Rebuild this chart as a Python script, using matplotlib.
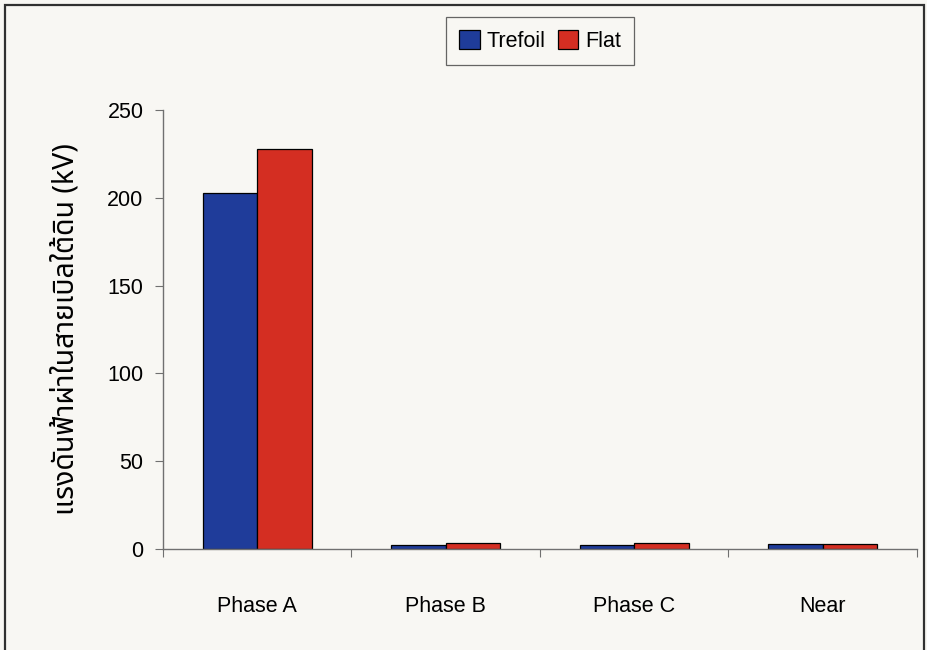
import matplotlib
matplotlib.use("Agg")
import matplotlib.pyplot as plt
from matplotlib import font_manager
from matplotlib.ft2font import FT2Font
from matplotlib.patches import Rectangle
import numpy as np

categories = ["Phase A", "Phase B", "Phase C", "Near"]
trefoil = [203, 2.5, 2.5, 2.6]
flat = [228, 3.2, 3.3, 2.6]
series_names = ["Trefoil", "Flat"]
ylabel_text = "แรงดันฟ้าผ่าในสายเบิลใต้ดิน (kV)"
yticks = [0, 50, 100, 150, 200, 250]


def find_thai_font():
    preferred = ["Noto Sans Thai", "Noto Sans Thai UI", "Loma", "Garuda", "Sarabun",
                 "TH Sarabun New", "Tahoma", "Noto Sans", "Noto Serif Thai"]
    found = {}
    for fe in font_manager.fontManager.ttflist:
        try:
            cmap = FT2Font(fe.fname).get_charmap()
        except Exception:
            continue
        if ord("ก") in cmap and ord("ฟ") in cmap:
            found.setdefault(fe.name, fe.fname)
    for name in preferred:
        if name in found:
            return name
    return next(iter(found), None)


thai = find_thai_font()
plt.rcParams["font.family"] = ["Liberation Sans", "DejaVu Sans"]

bg = "#f8f7f3"
fig = plt.figure(figsize=(9.28, 6.5), dpi=100, facecolor=bg)
ax = fig.add_axes([0.1756, 0.1554, 0.8125, 0.6754])
ax.set_facecolor(bg)

x = np.arange(len(categories)) + 0.5
w = 0.29
ax.bar(x - w / 2, trefoil, w, color="#1f3c9a", edgecolor="black", linewidth=0.9,
       label=series_names[0])
ax.bar(x + w / 2, flat, w, color="#d42e22", edgecolor="black", linewidth=0.9,
       label=series_names[1])

ax.set_xlim(0, len(categories))
ax.set_ylim(0, 250)
ax.set_yticks(yticks)
ax.set_yticklabels([str(v) for v in yticks], fontsize=15.5)
ax.set_xticks(np.arange(len(categories) + 1))
ax.set_xticklabels([])
ax.set_xticks(x, minor=True)
ax.set_xticklabels(categories, minor=True, fontsize=15.5)
ax.tick_params(axis="x", which="minor", length=0, pad=34)
ax.tick_params(axis="x", which="major", direction="out", length=6, color="#707070")
ax.tick_params(axis="y", direction="out", length=6, color="#707070", pad=8)

for s in ["top", "right"]:
    ax.spines[s].set_visible(False)
for s in ["left", "bottom"]:
    ax.spines[s].set_color("#707070")
    ax.spines[s].set_linewidth(1.0)

fam = [thai, "DejaVu Sans"] if thai else ["DejaVu Sans"]
ax.set_ylabel(ylabel_text, fontsize=20.5, family=fam, labelpad=19)

leg = ax.legend(loc="upper center", bbox_to_anchor=(0.5, 1.212), ncol=2, frameon=True,
                fancybox=False, edgecolor="#404040", facecolor=bg, fontsize=15.5,
                handlelength=0.95, handleheight=0.95, handletextpad=0.3, columnspacing=0.6,
                borderpad=0.62, borderaxespad=0)
leg.get_frame().set_linewidth(0.9)

# outer border of the chart area
fig.patches.append(Rectangle((5 / 928, -0.01), 919 / 928, 1 - 5 / 650 + 0.01,
                             transform=fig.transFigure, fill=False, edgecolor="#303030",
                             linewidth=1.6))

fig.savefig("out.png", dpi=100, facecolor=bg)
